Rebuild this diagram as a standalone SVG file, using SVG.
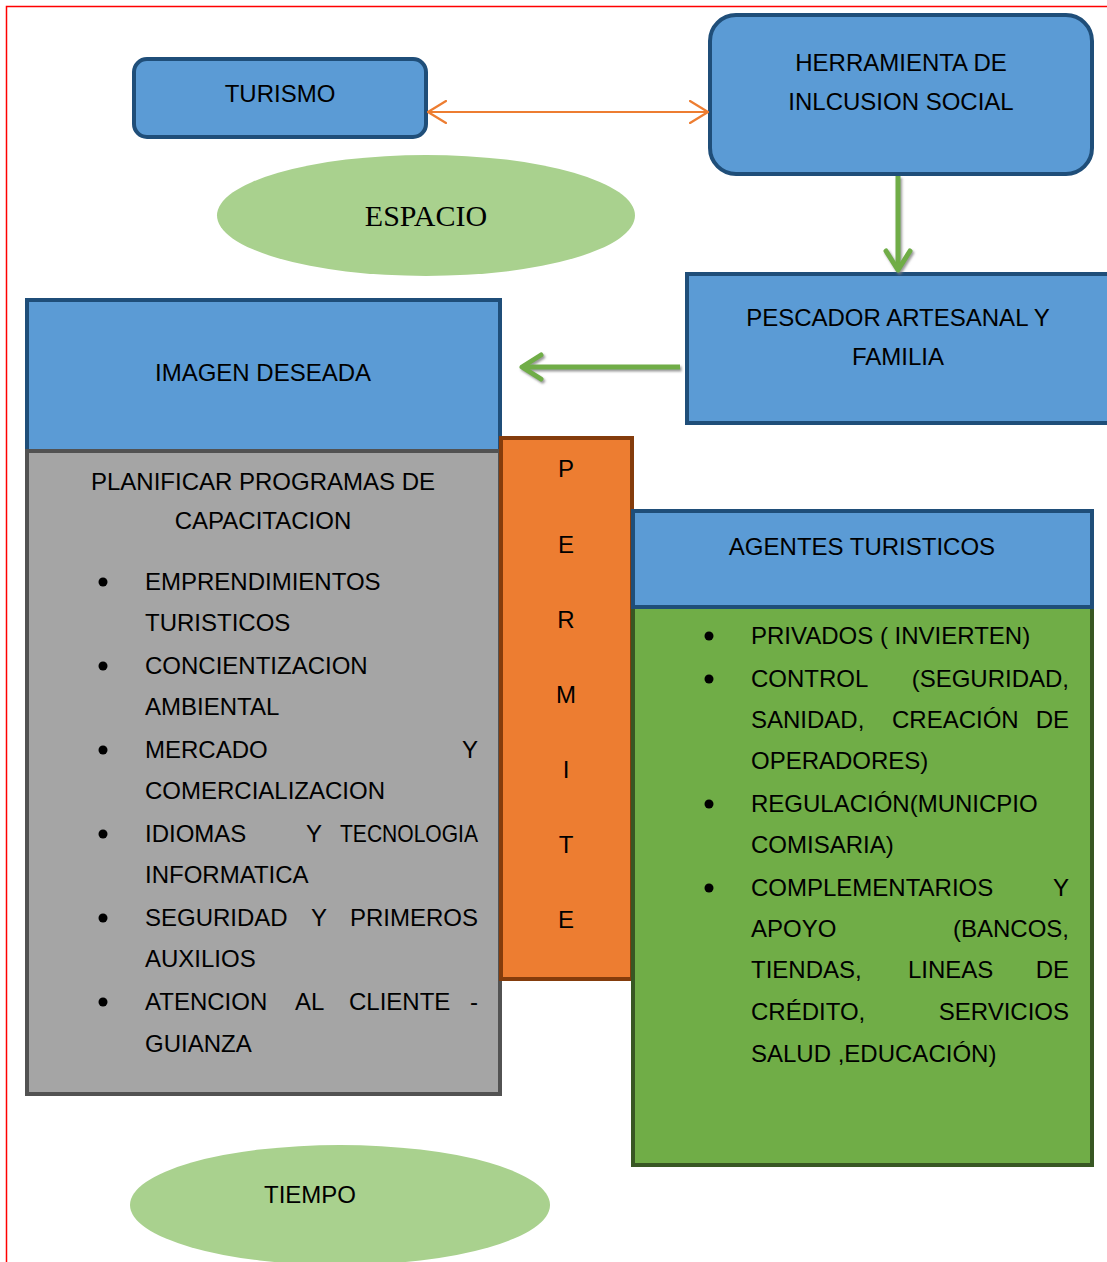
<svg xmlns="http://www.w3.org/2000/svg" width="1107" height="1262" viewBox="0 0 1107 1262">
<style>
text{font-family:"Liberation Sans",Arial,sans-serif;font-size:24px;fill:#000}
.c{text-anchor:middle}
.e{text-anchor:end}
.blue{fill:#5B9BD5;stroke:#1F4E79;stroke-width:4}
.ell{fill:#A9D18E}
</style>
<defs>
<marker id="oa" viewBox="0 0 20 24" refX="19" refY="12" markerWidth="20" markerHeight="24" markerUnits="userSpaceOnUse" orient="auto-start-reverse">
<path d="M1 1 L19 12 L1 23" fill="none" stroke="#ED7D31" stroke-width="2.2" stroke-linecap="round"/>
</marker>
<marker id="ga" viewBox="0 0 26 30" refX="22" refY="15" markerWidth="26" markerHeight="30" markerUnits="userSpaceOnUse" orient="auto">
<path d="M3 3 L22 15 L3 27" fill="none" stroke="#70AD47" stroke-width="5" stroke-linecap="round" stroke-linejoin="round"/>
</marker>
<filter id="sh" x="-20%" y="-20%" width="140%" height="140%">
<feDropShadow dx="1.5" dy="2" stdDeviation="1" flood-color="#808080" flood-opacity="0.8"/>
</filter>
</defs>
<rect width="1107" height="1262" fill="#fff"/>
<path d="M6.5 1262 V6.5 H1107" fill="none" stroke="#FF0000" stroke-width="1.5"/>

<g id="turismo">
<rect class="blue" x="134" y="59" width="292" height="78" rx="13"/>
<text class="c" x="280" y="102">TURISMO</text>
</g>
<g id="herramienta">
<rect class="blue" x="710" y="15" width="382" height="159" rx="26"/>
<text class="c" x="901" y="71">HERRAMIENTA DE</text>
<text class="c" x="901" y="110">INLCUSION SOCIAL</text>
</g>
<g id="espacio">
<ellipse class="ell" cx="426" cy="215.5" rx="209" ry="60.5"/>
<text class="c" x="426" y="226" style="font-family:'Liberation Serif','Times New Roman',serif;font-size:30px">ESPACIO</text>
</g>
<g id="pescador">
<rect class="blue" x="687" y="274" width="430" height="149"/>
<text class="c" x="898" y="326">PESCADOR ARTESANAL Y</text>
<text class="c" x="898" y="365">FAMILIA</text>
</g>
<g id="imagen">
<rect class="blue" x="27" y="300" width="473" height="151"/>
<text class="c" x="263" y="381">IMAGEN DESEADA</text>
</g>
<g id="planificar">
<rect x="27" y="451" width="473" height="643" fill="#A5A5A5" stroke="#525252" stroke-width="4"/>
<text class="c" x="263" y="490">PLANIFICAR PROGRAMAS DE</text>
<text class="c" x="263" y="529">CAPACITACION</text>
<g fill="#000">
<circle cx="103" cy="582" r="4.5"/>
<circle cx="103" cy="666" r="4.5"/>
<circle cx="103" cy="750" r="4.5"/>
<circle cx="103" cy="834" r="4.5"/>
<circle cx="103" cy="918" r="4.5"/>
<circle cx="103" cy="1002" r="4.5"/>
</g>
<text x="145" y="590">EMPRENDIMIENTOS</text>
<text x="145" y="631">TURISTICOS</text>
<text x="145" y="674">CONCIENTIZACION</text>
<text x="145" y="715">AMBIENTAL</text>
<text x="145" y="758">MERCADO</text><text class="e" x="478" y="758">Y</text>
<text x="145" y="799">COMERCIALIZACION</text>
<text x="145" y="842">IDIOMAS</text><text class="c" x="314" y="842">Y</text><text x="340" y="842" textLength="138" lengthAdjust="spacingAndGlyphs">TECNOLOGIA</text>
<text x="145" y="883">INFORMATICA</text>
<text x="145" y="926">SEGURIDAD</text><text class="c" x="319" y="926">Y</text><text class="e" x="478" y="926">PRIMEROS</text>
<text x="145" y="967">AUXILIOS</text>
<text x="145" y="1010">ATENCION</text><text x="295" y="1010">AL</text><text x="349" y="1010">CLIENTE</text><text class="e" x="478" y="1010">-</text>
<text x="145" y="1052">GUIANZA</text>
</g>
<g id="permite">
<rect x="501" y="438" width="131" height="541" fill="#ED7D31" stroke="#843C0C" stroke-width="4"/>
<text class="c" x="566" y="477">P</text>
<text class="c" x="566" y="553">E</text>
<text class="c" x="566" y="628">R</text>
<text class="c" x="566" y="703">M</text>
<text class="c" x="566" y="778">I</text>
<text class="c" x="566" y="853">T</text>
<text class="c" x="566" y="928">E</text>
</g>
<g id="agentes-lista">
<rect x="633" y="607" width="459" height="558" fill="#70AD47" stroke="#385723" stroke-width="4"/>
<g fill="#000">
<circle cx="709" cy="636" r="4.5"/>
<circle cx="709" cy="679" r="4.5"/>
<circle cx="709" cy="804" r="4.5"/>
<circle cx="709" cy="888" r="4.5"/>
</g>
<text x="751" y="644">PRIVADOS ( INVIERTEN)</text>
<text x="751" y="687">CONTROL</text><text class="e" x="1069" y="687">(SEGURIDAD,</text>
<text x="751" y="728">SANIDAD,</text><text x="892" y="728">CREACIÓN</text><text class="e" x="1069" y="728">DE</text>
<text x="751" y="769">OPERADORES)</text>
<text x="751" y="812">REGULACIÓN(MUNICPIO</text>
<text x="751" y="853">COMISARIA)</text>
<text x="751" y="896">COMPLEMENTARIOS</text><text class="e" x="1069" y="896">Y</text>
<text x="751" y="937">APOYO</text><text class="e" x="1069" y="937">(BANCOS,</text>
<text x="751" y="978">TIENDAS,</text><text x="908" y="978">LINEAS</text><text class="e" x="1069" y="978">DE</text>
<text x="751" y="1020">CRÉDITO,</text><text class="e" x="1069" y="1020">SERVICIOS</text>
<text x="751" y="1062">SALUD ,EDUCACIÓN)</text>
</g>
<g id="agentes">
<rect class="blue" x="633" y="511" width="459" height="96"/>
<text class="c" x="862" y="555">AGENTES TURISTICOS</text>
</g>
<g id="tiempo">
<ellipse class="ell" cx="340" cy="1205" rx="210" ry="60"/>
<text class="c" x="310" y="1203">TIEMPO</text>
</g>

<g id="connectors">
<line x1="428" y1="112" x2="708" y2="112" stroke="#ED7D31" stroke-width="2.2" marker-start="url(#oa)" marker-end="url(#oa)"/>
<g filter="url(#sh)">
<line x1="898" y1="176" x2="898" y2="270" stroke="#70AD47" stroke-width="5" marker-end="url(#ga)"/>
<line x1="680" y1="367" x2="522" y2="367" stroke="#70AD47" stroke-width="5" marker-end="url(#ga)"/>
</g>
</g>
</svg>
